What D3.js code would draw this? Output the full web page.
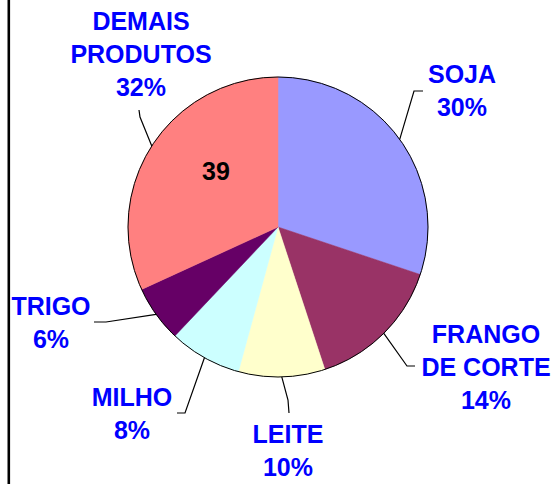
<!DOCTYPE html>
<html>
<head>
<meta charset="utf-8">
<script src="https://cdn.jsdelivr.net/npm/d3@7"></script>
<style>
  body { margin: 0; background: #fff; }
  text { font-family: Arial, "Liberation Sans", sans-serif; font-weight: bold; }
</style>
</head>
<body>
<div id="chart"></div>
<script>

// dados
var produtos = [ 'SOJA', 'FRANGO DE CORTE', 'LEITE', 'MILHO', 'TRIGO', 'DEMAIS PRODUTOS' ];
var linhas   = [ ['SOJA'], ['FRANGO', 'DE CORTE'], ['LEITE'], ['MILHO'], ['TRIGO'], ['DEMAIS', 'PRODUTOS'] ];
var fatias   = [ 30.1, 14.8, 9.3, 7.8, 6.1, 31.8 ];   // tamanho das fatias
var rotulos  = [ '30%', '14%', '10%', '8%', '6%', '32%' ];
var cores    = [ '#9999FF', '#993366', '#FFFFCC', '#CCFFFF', '#660066', '#FF8080' ];
var anotacao = '39';

var width = 554, height = 484,
    cx = 278, cy = 227, r = 150,
    lineH = 33;

// posição dos rótulos (centro x, primeira linha y) e pontas das linhas guia
var layout = [
  { x: 462, y: 83,  end: [423, 91],  elbow: [414, 91] },
  { x: 486, y: 343, end: [415, 366], elbow: [407, 366] },
  { x: 288, y: 443, end: [289, 413], elbow: [288, 400] },
  { x: 132, y: 406, end: [177, 413], elbow: [185, 413] },
  { x: 51,  y: 315, end: [94, 322],  elbow: [106, 322] },
  { x: 141, y: 30,  end: [139, 110], elbow: [140, 117] }
];

var data = produtos.map((p, i) => ({ nome: p, linhas: linhas[i], valor: fatias[i], rotulo: rotulos[i], cor: cores[i], lay: layout[i] }));

var svg = d3.select('#chart').append('svg')
    .attr('width', width)
    .attr('height', height);

// borda esquerda
svg.append('line')
    .attr('x1', 8.8).attr('x2', 8.8)
    .attr('y1', 0).attr('y2', height)
    .attr('stroke', '#000')
    .attr('stroke-width', 2.6);

var pie = d3.pie().sort(null).value(d => d.valor),
    arcs = pie(data),
    arc = d3.arc().innerRadius(0).outerRadius(r),
    edge = d3.arc().innerRadius(r).outerRadius(r);

var g = svg.append('g')
    .attr('transform', `translate(${cx},${cy})`);

g.selectAll('path.fatia')
    .data(arcs).enter()
  .append('path')
    .attr('class', 'fatia')
    .attr('d', arc)
    .attr('fill', d => d.data.cor)
    .attr('stroke', d => d.data.cor)
    .attr('stroke-width', 0.5);

g.append('circle')
    .attr('r', r)
    .attr('fill', 'none')
    .attr('stroke', '#000')
    .attr('stroke-width', 1);

// linhas guia
svg.selectAll('path.guia')
    .data(arcs).enter()
  .append('path')
    .attr('class', 'guia')
    .attr('fill', 'none')
    .attr('stroke', '#000')
    .attr('stroke-width', 1.2)
    .attr('d', d => {
      var c = edge.centroid(d);
      return d3.line()([ d.data.lay.end, d.data.lay.elbow, [cx + c[0], cy + c[1]] ]);
    });

// rótulos
var rot = svg.selectAll('g.rotulo')
    .data(data).enter()
  .append('g')
    .attr('class', 'rotulo');

rot.selectAll('text')
    .data(d => d.linhas.concat([d.rotulo]).map((t, i) => ({ t: t, x: d.lay.x, y: d.lay.y + i * lineH })))
    .enter()
  .append('text')
    .attr('x', d => d.x)
    .attr('y', d => d.y)
    .attr('text-anchor', 'middle')
    .attr('font-size', 25)
    .attr('fill', '#0000FF')
    .text(d => d.t);

svg.append('text')
    .attr('x', 216)
    .attr('y', 180)
    .attr('text-anchor', 'middle')
    .attr('font-size', 25)
    .attr('fill', '#000')
    .text(anotacao);

</script>
</body>
</html>
